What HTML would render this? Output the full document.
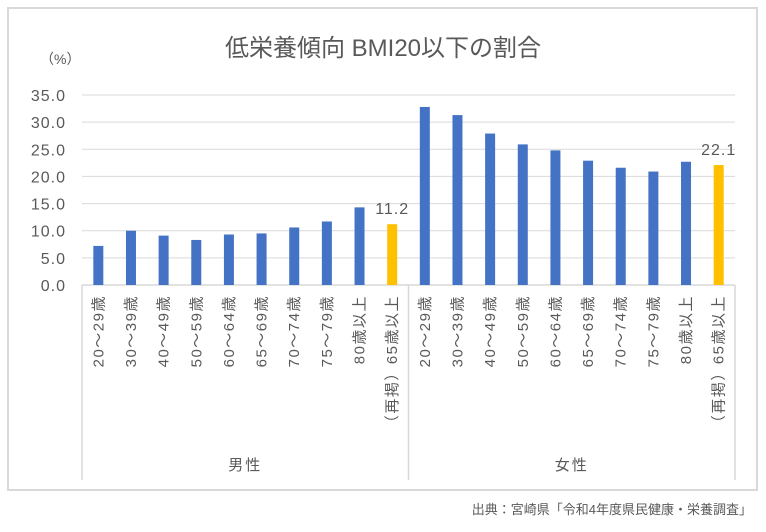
<!DOCTYPE html>
<html><head><meta charset="utf-8"><style>
body{margin:0;background:#fff}
svg text{font-family:"Liberation Sans","Noto Sans CJK JP",sans-serif;fill:#595959}
</style></head><body>
<svg width="766" height="527" xmlns="http://www.w3.org/2000/svg">
<rect x="8" y="8" width="749" height="482" fill="#fff" stroke="#d9d9d9" stroke-width="2"/>
<text x="383" y="56" font-size="24" text-anchor="middle">低栄養傾向 BMI20以下の割合</text>
<text x="40" y="64" font-size="14">（%）</text>
<g id="grid"></g><g id="bars"></g><g id="labels"></g>
<text x="752" y="514" font-size="13" text-anchor="end" fill="#404040">出典：宮崎県「令和4年度県民健康・栄養調査」</text>
</svg>
<script>
const categories=["20～29歳","30～39歳","40～49歳","50～59歳","60～64歳","65～69歳","70～74歳","75～79歳","80歳以上","（再掲）65歳以上"];
const groups=["男性","女性"];
const maleValues=[7.2,10.0,9.1,8.3,9.3,9.5,10.6,11.7,14.3,11.2];
const femaleValues=[32.8,31.3,27.9,25.9,24.8,22.9,21.6,20.9,22.7,22.1];
const yTicks=[0,5,10,15,20,25,30,35];
const NS="http://www.w3.org/2000/svg";
const x0=82,x1=735,y0=285,yTop=95,yMax=35;
const y=v=>y0-(v/yMax)*(y0-yTop);
const step=(x1-x0)/20;
function mk(t,a,p){const e=document.createElementNS(NS,t);for(const k in a)e.setAttribute(k,a[k]);p.appendChild(e);return e;}
const grid=document.getElementById('grid'),bars=document.getElementById('bars'),labels=document.getElementById('labels');
yTicks.forEach(t=>{
 if(t>0){const l=mk('line',{x1:x0,x2:x1,y1:y(t),y2:y(t),stroke:'#d9d9d9'},grid);
 
 }
 const tx=mk('text',{x:66,y:y(t)+6,'font-size':16,'text-anchor':'end','letter-spacing':'1'},grid);
 
 
 tx.textContent=t.toFixed(1);
});
const series=[maleValues,femaleValues];
series.forEach((vals,g)=>{
 vals.forEach((v,i)=>{
  const idx=g*10+i,cx=x0+step*(idx+0.5);
  const last=i===vals.length-1;
  const r=mk('rect',{x:cx-5,y:y(v),width:10,height:y0-y(v),fill:last?'#ffc000':'#4472c4'},bars);
  
  
  if(last){const t=mk('text',{x:cx,y:y(v)-10,'font-size':16,'text-anchor':'middle','letter-spacing':'1'},bars);
   
   
   t.textContent=v.toFixed(1);}
  const lt=mk('text',{x:0,y:0,'font-size':15,'text-anchor':'end','letter-spacing':'1.5',transform:`translate(${cx+5},295) rotate(-90)`},labels);
  
  
  lt.textContent=categories[i];
 });
 const gx=x0+step*(g*10+5);
 const gt=mk('text',{x:gx,y:470,'font-size':15,'text-anchor':'middle','letter-spacing':'2'},labels);
 
 
 gt.textContent=groups[g];
});
const ax=mk('line',{x1:x0,x2:x1,y1:y0,y2:y0,stroke:'#d9d9d9','stroke-width':1.5},grid);


[0,10,20].forEach(k=>{const sx=x0+step*k;const l=mk('line',{x1:sx,x2:sx,y1:y0,y2:480,stroke:'#d9d9d9','stroke-width':1.5},grid);
 
 });
</script>
</body></html>
